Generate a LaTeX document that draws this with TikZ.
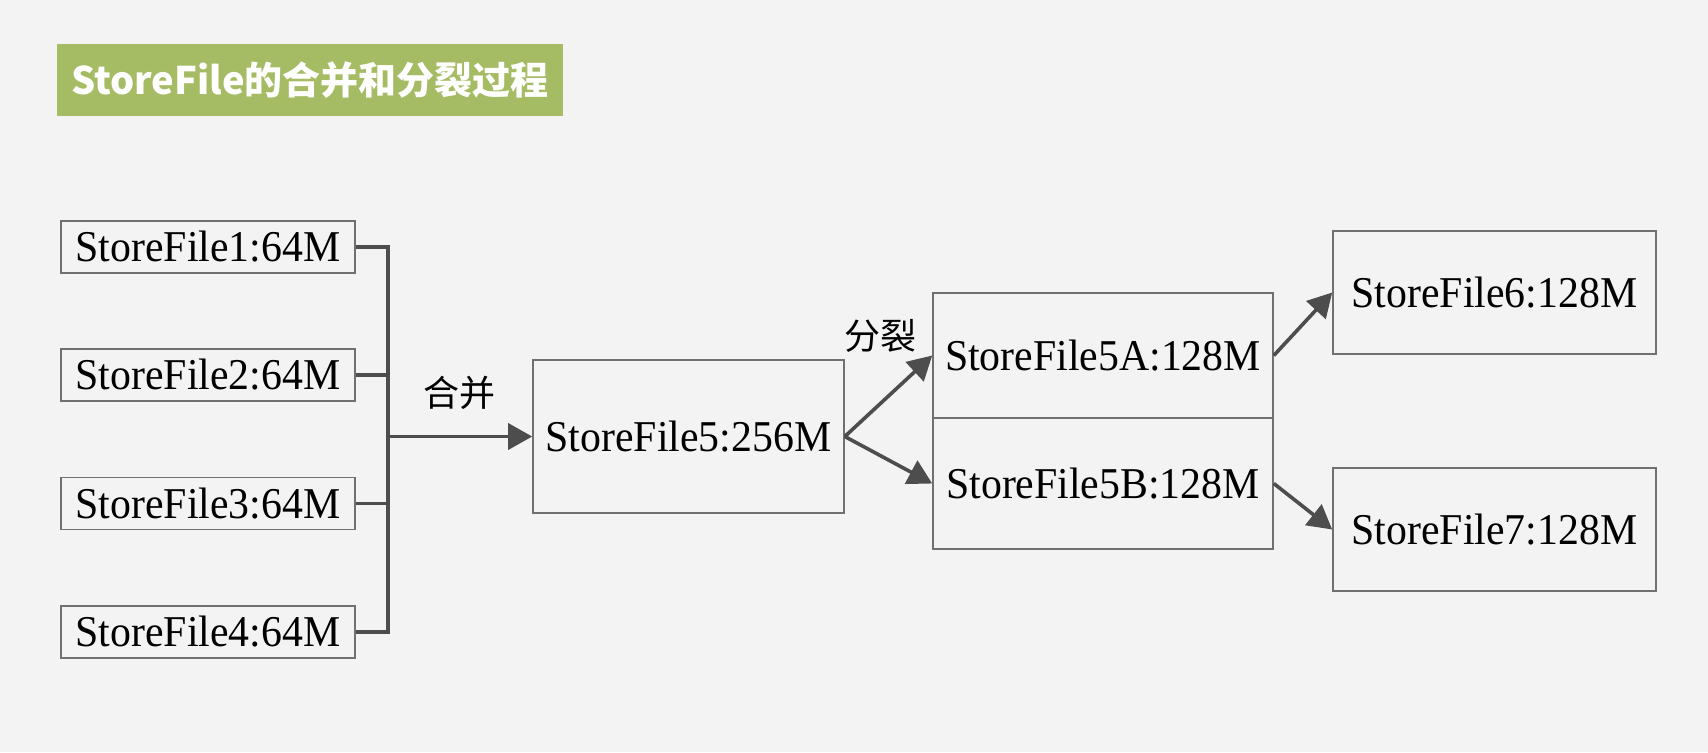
\documentclass[tikz,border=0pt]{standalone}
\usepackage{fontspec}
\setmainfont[FakeStretch=0.95]{Liberation Serif}
\newfontfamily\cjk{Noto Sans CJK SC}
\usetikzlibrary{arrows.meta}
\definecolor{bgcol}{HTML}{F3F3F3}
\definecolor{titlegreen}{HTML}{A6BC64}
\definecolor{boxline}{HTML}{707070}
\definecolor{conncol}{HTML}{4D4D4D}
\begin{document}
\begin{tikzpicture}[x=0.5pt,y=-0.5pt,
  filebox/.style={draw=boxline, line width=0.8pt, inner sep=0pt, font=\fontsize{22}{26}\selectfont, text=black},
  smallbox/.style={filebox, minimum width=147pt, minimum height=26pt},
  conn/.style={draw=conncol, line width=1.8pt},
  arr/.style={conn, -{Triangle[length=12pt,width=13pt]}},
  lbl/.style={font=\cjk\fontsize{18}{20}\selectfont, text=black}]
\fill[bgcol] (0,0) rectangle (1708,752);
\useasboundingbox (0,0) rectangle (1708,752);
\node[fill=titlegreen, minimum width=253pt, minimum height=36pt, inner sep=0pt, text=white, font=\cjk\bfseries\fontsize{19}{22}\selectfont] (title) at (310,80) {StoreFile的合并和分裂过程};
\node[smallbox] (f1) at (208,247) {StoreFile1:64M};
\node[smallbox] (f2) at (208,375) {StoreFile2:64M};
\node[smallbox] (f3) at (208,503.5) {StoreFile3:64M};
\node[smallbox] (f4) at (208,632) {StoreFile4:64M};
\node[filebox, minimum width=155.5pt, minimum height=76.5pt] (f5) at (688.5,436.5) {StoreFile5:256M};
\node[filebox, minimum width=170pt, minimum height=62.5pt] (f5a) at (1103,355.5) {StoreFile5A:128M};
\node[filebox, minimum width=170pt, minimum height=65.5pt] (f5b) at (1103,483.5) {StoreFile5B:128M};
\node[filebox, minimum width=161.5pt, minimum height=61.5pt] (f6) at (1494.5,292.5) {StoreFile6:128M};
\node[filebox, minimum width=161.5pt, minimum height=61.5pt] (f7) at (1494.5,529.5) {StoreFile7:128M};
\coordinate (bustop) at (388,247);
\coordinate (busbot) at (388,632);
\coordinate (busmid) at (388,436.5);
\draw[conn] (f1.east) -- (bustop) -- (busbot) -- (f4.east);
\draw[conn] (f2.east) -- (f2.east -| bustop);
\draw[conn] (f3.east) -- (f3.east -| bustop);
\draw[arr] (busmid) -- (f5.west);
\draw[arr] (f5.east) -- (f5a.west);
\draw[arr] (f5.east) -- (f5b.west);
\draw[arr] (f5a.east) -- (f6.west);
\draw[arr] (f5b.east) -- (f7.west);
\node[lbl] (merge) at (459,393) {合并};
\node[lbl] (split) at (880,336) {分裂};
\end{tikzpicture}
\end{document}
